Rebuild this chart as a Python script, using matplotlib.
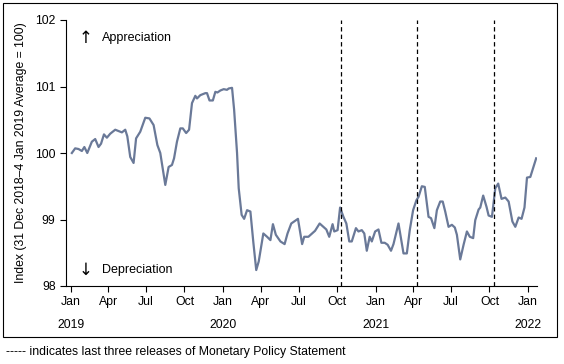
import matplotlib
matplotlib.use("Agg")
import matplotlib.pyplot as plt
import matplotlib.dates as mdates
from matplotlib.patches import Rectangle
import pandas as pd
import numpy as np

plt.rcParams['font.family'] = ['Liberation Sans', 'DejaVu Sans']

start_date = "2019-01-04"
day_offsets = [0, 8, 16, 24, 30, 37, 48, 56, 64, 70, 77, 84, 92, 104, 112, 120, 128, 133, 140, 148,
               154, 164, 176, 186, 196, 205, 212, 224, 232, 240, 245, 252, 260, 266, 274, 281, 288,
               296, 300, 308, 320, 324, 330, 338, 344, 349, 356, 364, 372, 376, 384, 389, 396, 400,
               407, 413, 420, 428, 435, 442, 448, 459, 468, 476, 482, 489, 500, 510, 517, 526, 535,
               542, 552, 557, 567, 576, 583, 594, 603, 610, 617, 625, 629, 637, 643, 651, 658, 665,
               671, 681, 687, 695, 701, 707, 714, 719, 727, 735, 742, 750, 757, 765, 771, 783, 795,
               803, 810, 818, 826, 831, 839, 846, 855, 861, 869, 875, 883, 889, 895, 903, 911, 918,
               923, 931, 939, 947, 954, 962, 967, 975, 979, 986, 994, 999, 1007, 1015, 1022, 1030,
               1039, 1047, 1056, 1063, 1071, 1078, 1085, 1091, 1099, 1113]
index_values = [100.00, 100.07, 100.06, 100.03, 100.09, 100.00, 100.17, 100.21, 100.09, 100.14,
                100.28, 100.23, 100.29, 100.35, 100.33, 100.31, 100.35, 100.25, 99.94, 99.85,
                100.22, 100.32, 100.53, 100.52, 100.42, 100.12, 100.00, 99.52, 99.79, 99.82,
                99.92, 100.17, 100.37, 100.37, 100.30, 100.35, 100.75, 100.86, 100.82, 100.87,
                100.90, 100.90, 100.79, 100.79, 100.92, 100.91, 100.94, 100.96, 100.95, 100.97,
                100.98, 100.65, 100.00, 99.47, 99.07, 99.01, 99.14, 99.12, 98.66, 98.24,
                98.37, 98.79, 98.74, 98.69, 98.93, 98.77, 98.67, 98.63, 98.79, 98.94,
                98.98, 99.01, 98.63, 98.74, 98.74, 98.79, 98.83, 98.94, 98.89, 98.85,
                98.74, 98.93, 98.82, 98.84, 99.18, 99.04, 98.94, 98.67, 98.67, 98.87,
                98.82, 98.84, 98.79, 98.53, 98.74, 98.67, 98.82, 98.85, 98.65, 98.65,
                98.62, 98.53, 98.63, 98.94, 98.49, 98.49, 98.84, 99.14, 99.29, 99.34,
                99.50, 99.49, 99.04, 99.02, 98.87, 99.14, 99.27, 99.27, 99.12, 98.89,
                98.92, 98.88, 98.77, 98.40, 98.62, 98.82, 98.74, 98.72, 98.99, 99.15,
                99.18, 99.36, 99.19, 99.06, 99.04, 99.47, 99.54, 99.31, 99.33, 99.27,
                98.97, 98.89, 99.03, 99.01, 99.18, 99.63, 99.64, 99.92]
mps_dates = ["2020-10-11", "2021-04-11", "2021-10-13"]
x_start, x_end = "2018-12-21", "2022-01-23"
tick_dates = ["2019-01-01", "2019-04-01", "2019-07-01", "2019-10-01",
              "2020-01-01", "2020-04-01", "2020-07-01", "2020-10-01",
              "2021-01-01", "2021-04-01", "2021-07-01", "2021-10-01", "2022-01-01"]
tick_labels = ["Jan\n2019", "Apr", "Jul", "Oct", "Jan\n2020", "Apr", "Jul", "Oct",
               "Jan\n2021", "Apr", "Jul", "Oct", "Jan\n2022"]
y_ticks = [98, 99, 100, 101, 102]

dates = pd.Timestamp(start_date) + pd.to_timedelta(day_offsets, unit="D")

fig = plt.figure(figsize=(5.64, 3.64), dpi=100)
ax = fig.add_axes([66/564, 1-286/364, (537-66)/564, (286-20)/364])

line_color = "#6a7998"
ax.plot(dates, index_values, color=line_color, lw=1.6, solid_joinstyle="round")
for d in mps_dates:
    ax.axvline(pd.Timestamp(d), color="black", lw=0.9, ls=(0, (3.5, 2.5)))

ax.set_xlim(pd.Timestamp(x_start), pd.Timestamp(x_end))
ax.set_ylim(98, 102)
ax.set_yticks(y_ticks)
ax.set_yticklabels([str(v) for v in y_ticks], fontsize=8.8)
ax.set_xticks(pd.to_datetime(tick_dates))
ax.set_xticklabels(tick_labels, fontsize=8.8, linespacing=2.2, va="top")
ax.tick_params(axis="both", direction="out", length=4, width=0.8, color="black")
ax.tick_params(axis="x", pad=3)
for s in ["top", "right"]:
    ax.spines[s].set_visible(False)
for s in ["left", "bottom"]:
    ax.spines[s].set_linewidth(0.8)

ax.set_ylabel("Index (31 Dec 2018\u20134 Jan 2019 Average = 100)", fontsize=8.8, labelpad=6)

arrow_font = ['DejaVu Sans']
ax.text(0.042, 0.932, "\u2191", transform=ax.transAxes, fontsize=12, va="center", ha="center",
        family=arrow_font)
ax.text(0.076, 0.932, "Appreciation", transform=ax.transAxes, fontsize=9, va="center", ha="left")
ax.text(0.042, 0.06, "\u2193", transform=ax.transAxes, fontsize=12, va="center", ha="center",
        family=arrow_font)
ax.text(0.076, 0.06, "Depreciation", transform=ax.transAxes, fontsize=9, va="center", ha="left")

fig.patches.append(Rectangle((3/564, 1-337/364), 554/564, 334/364, transform=fig.transFigure,
                             fill=False, edgecolor="black", lw=0.8))
fig.text(6/564, 1-352/364, "----- indicates last three releases of Monetary Policy Statement",
         fontsize=8.8, va="center", ha="left")

fig.savefig("out.png", dpi=100)
